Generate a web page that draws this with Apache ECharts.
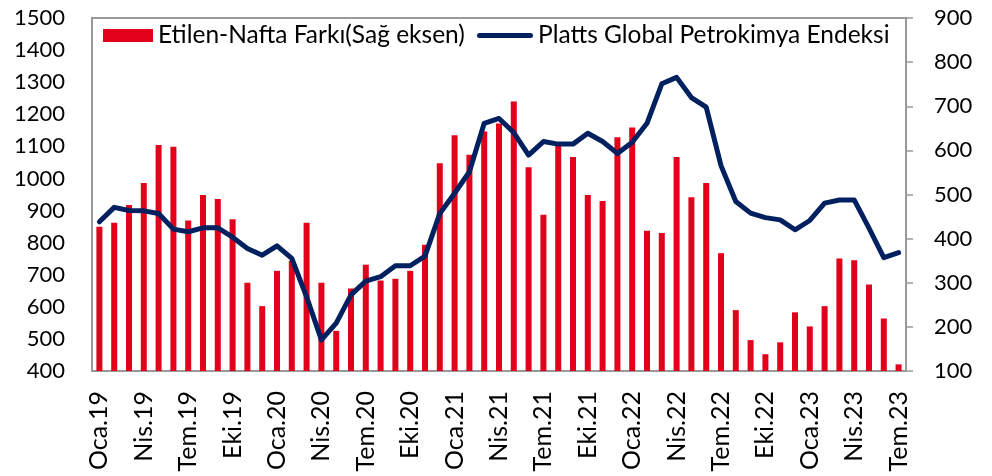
<!DOCTYPE html>
<html>
<head>
<meta charset="utf-8">
<script src="https://cdn.jsdelivr.net/npm/echarts@6/dist/echarts.min.js"></script>
<style>
  html, body { margin: 0; padding: 0; background: #fff; }
  #chart { width: 992px; height: 476px; }
</style>
</head>
<body>
<div id="chart"></div>
<script>
// aylar (Oca.19 - Tem.23)
var monthNames = ['Oca', 'Şub', 'Mar', 'Nis', 'May', 'Haz', 'Tem', 'Ağu', 'Eyl', 'Eki', 'Kas', 'Ara'];
var years = ['19', '20', '21', '22', '23'];
var categories = [];
years.forEach(function (y) {
  monthNames.forEach(function (m) { categories.push(m + '.' + y); });
});
categories = categories.slice(0, 55);

// Etilen-Nafta farkı (sağ eksen)
var spread = [427, 436, 476, 526, 612, 608, 441, 499, 490, 444,
  300, 247, 327, 350, 436, 300, 191, 287, 341, 305,
  309, 327, 386, 571, 634, 590, 643, 661, 711, 562,
  454, 611, 585, 499, 485, 630, 652, 418, 413, 585,
  494, 526, 367, 238, 170, 138, 165, 233, 201, 247,
  355, 351, 296, 219, 115];

// Platts Global Petrokimya Endeksi (sol eksen)
var platts = [865, 910, 900, 899, 891, 842, 834, 846, 846, 817,
  782, 761, 790, 751, 631, 497, 549, 637, 680, 694,
  728, 728, 758, 891, 954, 1021, 1172, 1187, 1143, 1073,
  1115, 1107, 1107, 1141, 1115, 1078, 1113, 1172, 1295, 1315,
  1252, 1222, 1040, 928, 892, 878, 871, 840, 869, 923,
  933, 933, 845, 753, 769];

var spreadName = 'Etilen-Nafta Farkı(Sağ eksen)';
var plattsName = 'Platts Global Petrokimya Endeksi';

var font = 'Lato';
var txt = { fontFamily: font, fontSize: 22, color: '#000' };
var legendTxt = { fontFamily: font, fontSize: 24.5, color: '#000' };
var plain = function (v) { return String(v); };

var chart = echarts.init(document.getElementById('chart'));
var option = {
  animation: false,
  grid: {
    left: 92, right: 86, top: 18, bottom: 105,
    show: true, borderColor: '#999', borderWidth: 2
  },
  legend: [
    {
      data: [{ name: spreadName, icon: 'rect' }],
      left: 103, top: 23, padding: 0, itemWidth: 50, itemHeight: 13, itemGap: 0,
      textStyle: legendTxt
    },
    {
      data: [{ name: plattsName, icon: 'path://M2.5,0 L53.5,0 A2.5,2.5 0 0 1 53.5,5 L2.5,5 A2.5,2.5 0 0 1 2.5,0 Z' }],
      left: 477, top: 23, padding: 0, itemWidth: 56, itemHeight: 13, itemGap: 0,
      textStyle: legendTxt
    }
  ],
  xAxis: {
    type: 'category',
    data: categories,
    boundaryGap: true,
    axisLine: { lineStyle: { color: '#999', width: 2 } },
    axisTick: { show: false },
    axisLabel: { interval: 2, rotate: 90, margin: 20, fontFamily: font, fontSize: 25, color: '#000' },
    splitLine: { show: false }
  },
  yAxis: [
    {
      type: 'value', min: 400, max: 1500, interval: 100, position: 'left',
      axisLine: { show: false }, axisTick: { show: false }, splitLine: { show: false },
      axisLabel: Object.assign({ margin: 27, formatter: plain }, txt)
    },
    {
      type: 'value', min: 100, max: 900, interval: 100, position: 'right',
      axisLine: { show: true, lineStyle: { color: '#999', width: 2 } },
      axisTick: { show: true, length: 7, lineStyle: { color: '#999', width: 1.5 } },
      splitLine: { show: false },
      axisLabel: Object.assign({ margin: 28, formatter: plain }, txt)
    }
  ],
  series: [
    {
      name: spreadName, type: 'bar', yAxisIndex: 1,
      data: spread, barWidth: 6,
      itemStyle: { color: '#E2001A' }
    },
    {
      name: plattsName, type: 'line', yAxisIndex: 0,
      data: platts, symbol: 'none', z: 3,
      itemStyle: { color: '#002060' },
      lineStyle: { color: '#002060', width: 5, cap: 'round', join: 'round' }
    }
  ]
};
chart.setOption(option);
</script>
</body>
</html>
